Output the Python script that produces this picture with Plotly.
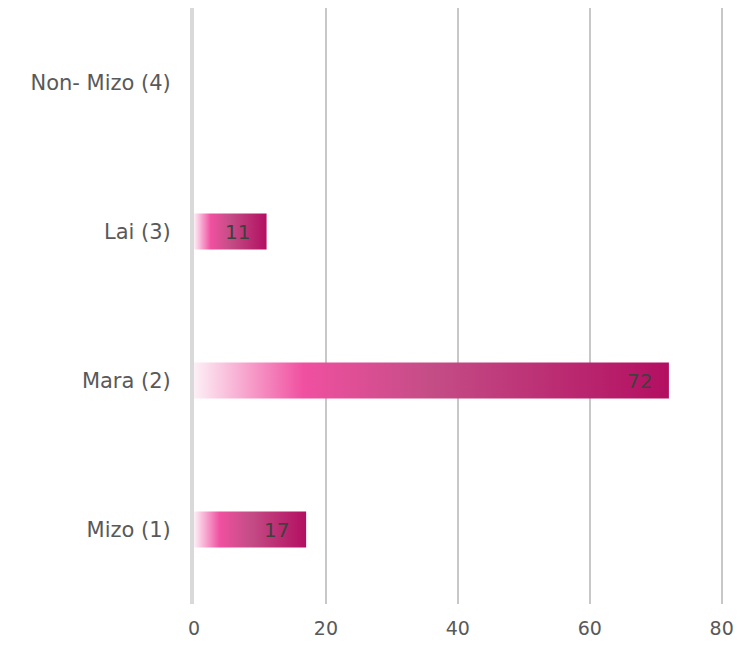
import plotly.graph_objects as go

categories = ["Mizo (1)", "Mara (2)", "Lai (3)", "Non- Mizo (4)"]
values = [17, 72, 11, None]
x_ticks = [0, 20, 40, 60, 80]

FONT = "DejaVu Sans"
TEXT_COLOR = "#595959"
GRADIENT = [[0.0, "#fdf0f6"], [0.23, "#f050a0"], [0.5, "#c44d86"], [1.0, "#b30f61"]]
HALF = 0.12

fig = go.Figure()

for i, v in enumerate(values):
    if not v:
        continue
    fig.add_trace(go.Scatter(
        x=[0, v, v, 0, 0],
        y=[i - HALF, i - HALF, i + HALF, i + HALF, i - HALF],
        mode="lines",
        line=dict(width=0),
        fill="toself",
        fillgradient=dict(type="horizontal", colorscale=GRADIENT),
        hoverinfo="skip",
        showlegend=False,
    ))
    fig.add_annotation(
        x=v, y=i, text=str(v), showarrow=False,
        xanchor="right", xshift=-15,
        font=dict(family=FONT, size=20, color="#404040"),
    )

# page body has an 8px margin, so the figure is sized/offset to compensate
fig.update_layout(
    width=728, height=634,
    margin=dict(l=186, r=13, t=0, b=38),
    paper_bgcolor="white",
    plot_bgcolor="white",
    font=dict(family=FONT, size=20, color=TEXT_COLOR),
    xaxis=dict(
        range=[0, 80.2],
        tickvals=x_ticks,
        showgrid=True,
        gridcolor="#c8c8c8",
        gridwidth=2,
        zeroline=False,
        showline=False,
        ticks="",
        ticklen=0,
        ticklabelstandoff=11,
        ticklabeloverflow="allow",
        automargin=False,
        tickfont=dict(family=FONT, size=19, color=TEXT_COLOR),
    ),
    yaxis=dict(
        range=[-0.5, 3.5],
        tickvals=list(range(len(categories))),
        ticktext=categories,
        showgrid=False,
        zeroline=False,
        showline=True,
        linecolor="#d9d9d9",
        linewidth=4,
        ticks="",
        ticklen=0,
        ticklabelstandoff=15,
        automargin=False,
        tickfont=dict(family=FONT, size=21, color=TEXT_COLOR),
    ),
)

fig.write_html("out.html")
